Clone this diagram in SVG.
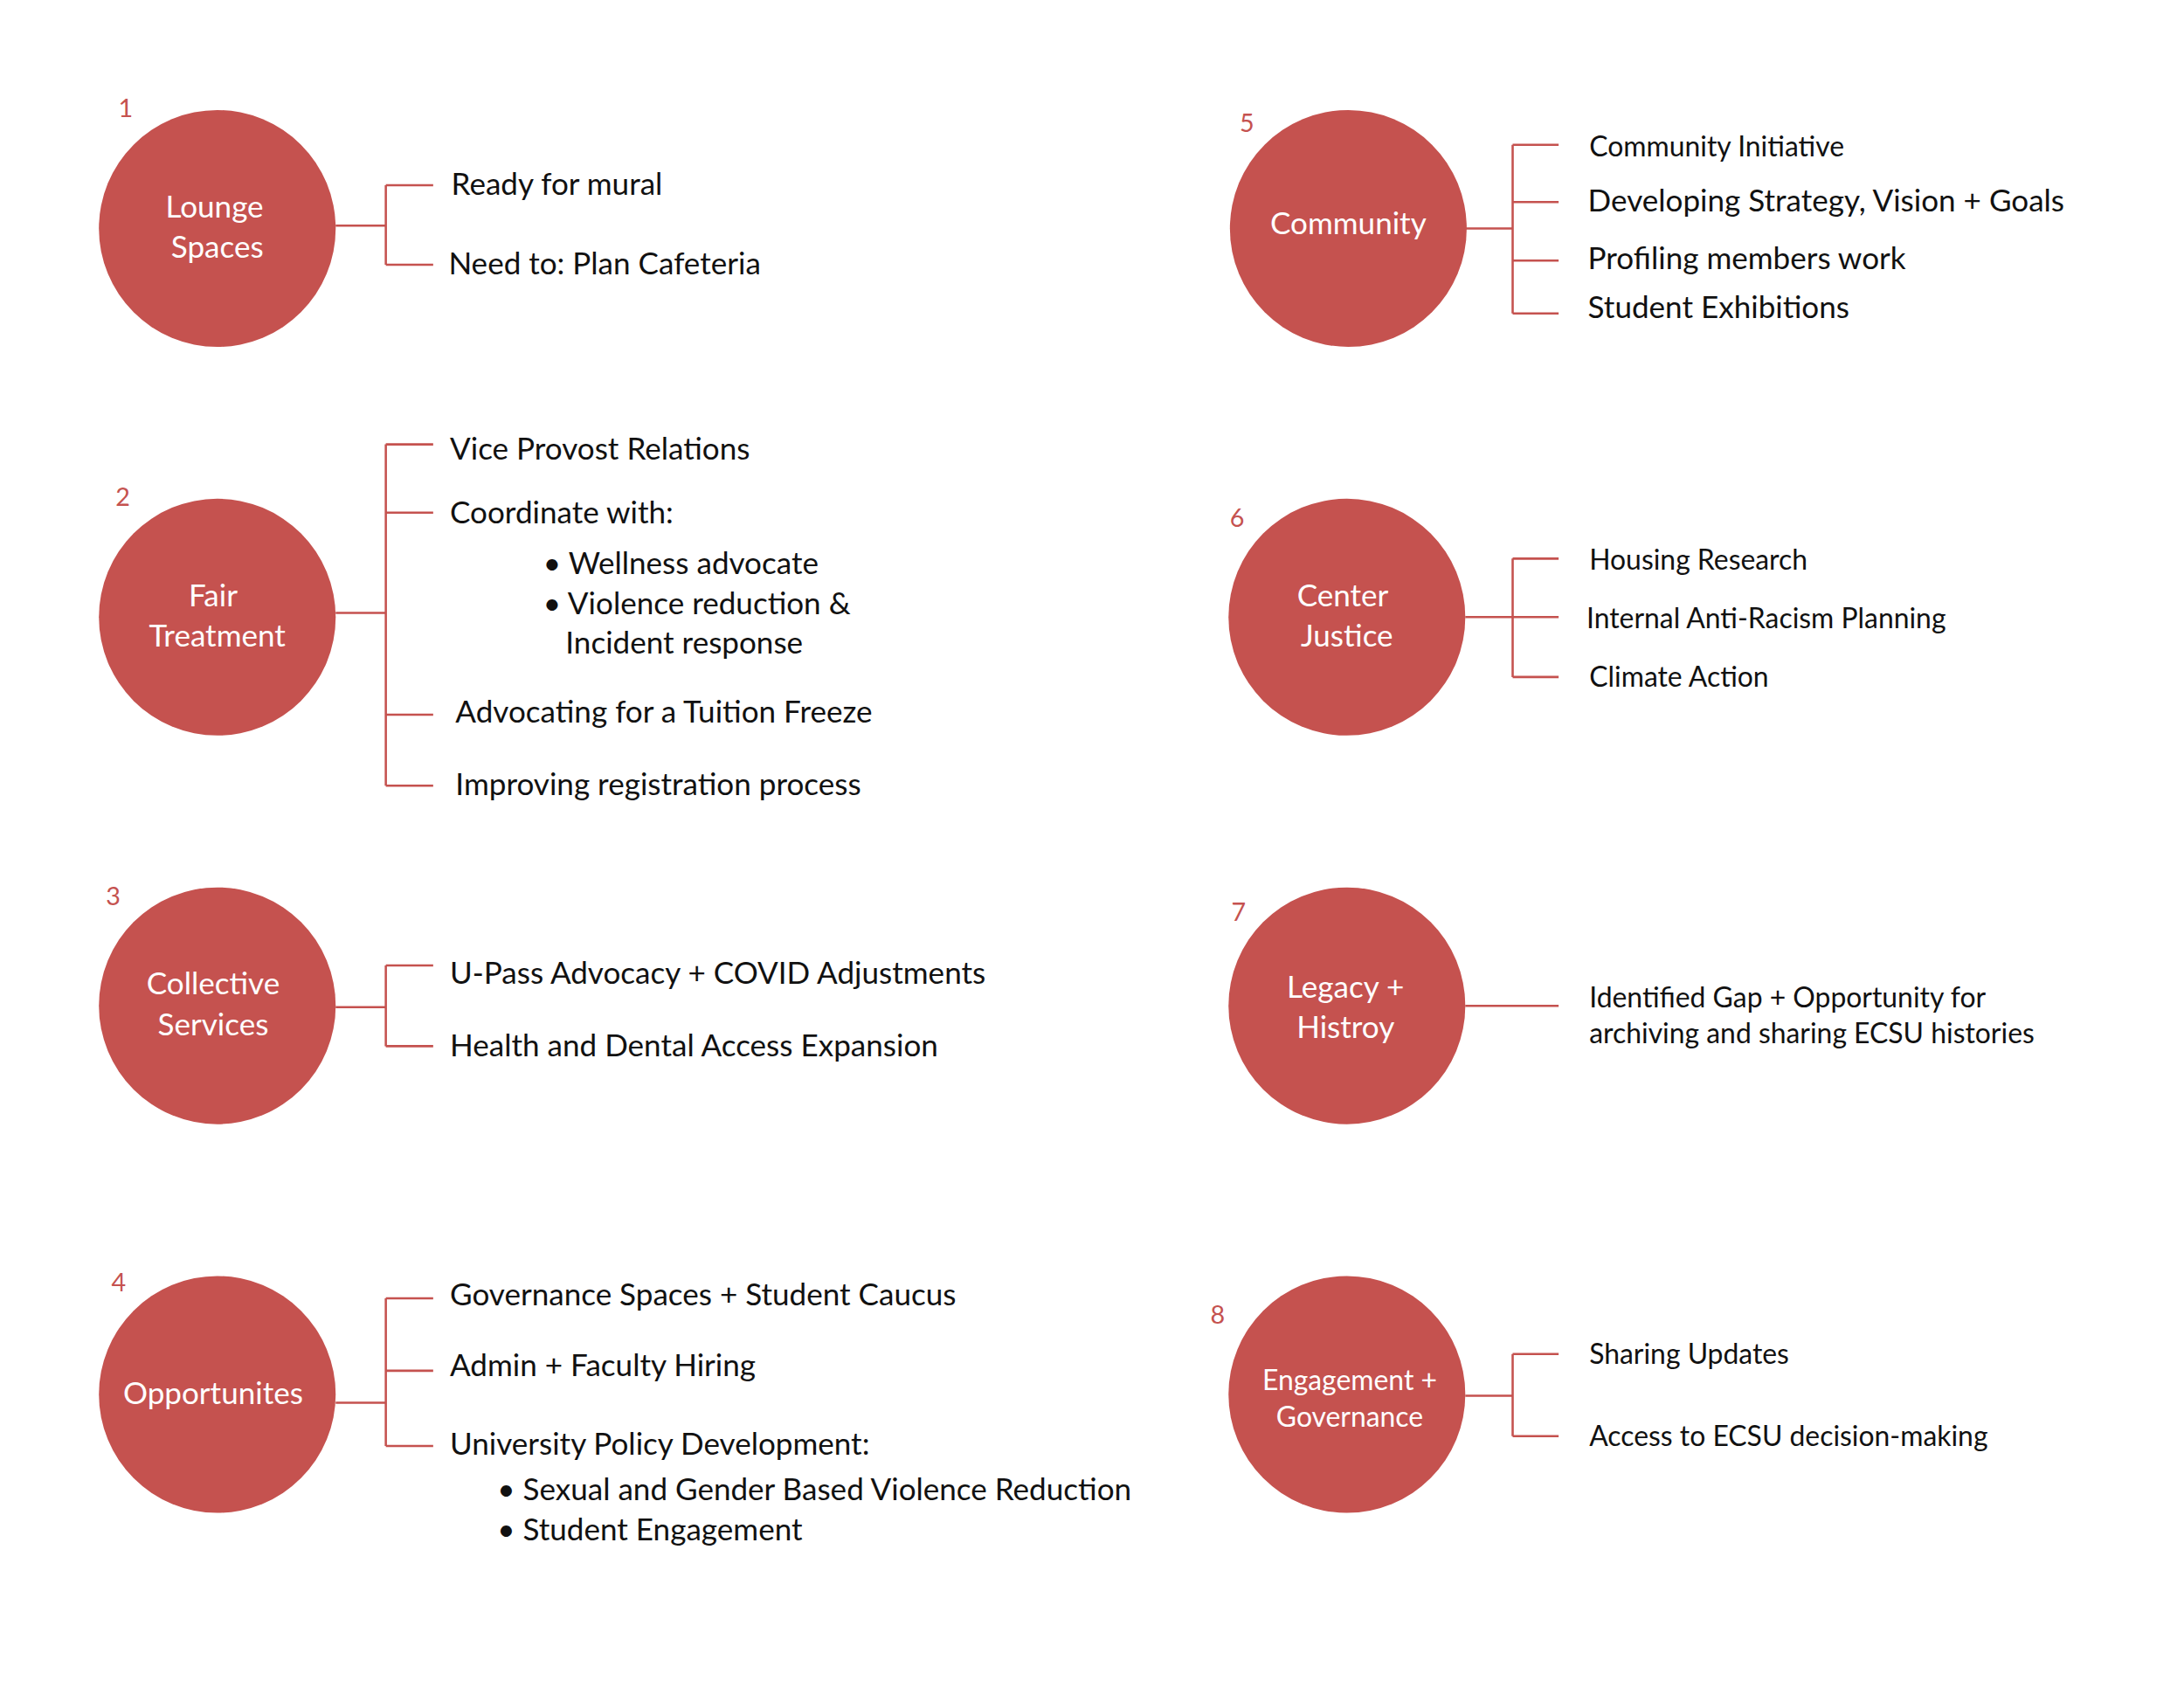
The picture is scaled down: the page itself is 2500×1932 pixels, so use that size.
<svg xmlns="http://www.w3.org/2000/svg" width="2500" height="1932" viewBox="0 0 2500 1932">
<style>
.c{fill:#c5524f}
.l{fill:#fff;font-family:Lato,"Open Sans",sans-serif;font-size:22px;text-anchor:middle}
.n{fill:#c5524f;font-family:Lato,"Open Sans",sans-serif;font-size:18px}
.t{fill:#111;font-family:Lato,"Open Sans",sans-serif;font-size:22px}
.s{font-size:20px}
.k{fill:none;stroke:#c5524f;stroke-width:1.6}
</style>
<rect width="2500" height="1932" fill="#fff"/>
<g transform="scale(1.5944)">
<g id="connectors" class="k">
<path d="M241 162H277M277 133V190M277 133H311M277 190H311"/>
<path d="M241 440H277M277 319V564M277 319H311M277 368H311M277 513H311M277 564H311"/>
<path d="M241 723H277M277 693V751M277 693H311M277 751H311"/>
<path d="M241 1007H277M277 932V1038M277 932H311M277 984H311M277 1038H311"/>
<path d="M1052 164H1086M1086 104V225M1086 104H1119M1086 145H1119M1086 187H1119M1086 225H1119"/>
<path d="M1052 443H1086M1086 401V486M1086 401H1119M1086 443H1119M1086 486H1119"/>
<path d="M1052 722H1119"/>
<path d="M1052 1002H1086M1086 972V1031M1086 972H1119M1086 1031H1119"/>
</g>
<g id="n1"><circle class="c" cx="156" cy="164" r="85"/><text class="n" x="85" y="84">1</text>
<text class="l" x="154" y="156">Lounge</text><text class="l" x="156" y="185">Spaces</text>
<text class="t" x="324" y="140">Ready for mural</text><text class="t" x="322" y="197">Need to: Plan Cafeteria</text></g>
<g id="n2"><circle class="c" cx="156" cy="443" r="85"/><text class="n" x="83" y="363">2</text>
<text class="l" x="153" y="435">Fair</text><text class="l" x="156" y="464">Treatment</text>
<text class="t" x="323" y="330">Vice Provost Relations</text><text class="t" x="323" y="376">Coordinate with:</text>
<text class="t" x="390" y="412">• Wellness advocate</text><text class="t" x="390" y="441">• Violence reduction &amp;</text>
<text class="t" x="406" y="469">Incident response</text>
<text class="t" x="327" y="519">Advocating for a Tuition Freeze</text><text class="t" x="327" y="571">Improving registration process</text></g>
<g id="n3"><circle class="c" cx="156" cy="722" r="85"/><text class="n" x="76" y="650">3</text>
<text class="l" x="153" y="714">Collective</text><text class="l" x="153" y="743">Services</text>
<text class="t" x="323" y="706">U-Pass Advocacy + COVID Adjustments</text><text class="t" x="323" y="758">Health and Dental Access Expansion</text></g>
<g id="n4"><circle class="c" cx="156" cy="1001" r="85"/><text class="n" x="80" y="927">4</text>
<text class="l" x="153" y="1008">Opportunites</text>
<text class="t" x="323" y="937">Governance Spaces + Student Caucus</text><text class="t" x="323" y="988">Admin + Faculty Hiring</text>
<text class="t" x="323" y="1044">University Policy Development:</text>
<text class="t" x="357" y="1077">• Sexual and Gender Based Violence Reduction</text><text class="t" x="357" y="1106">• Student Engagement</text></g>
<g id="n5"><circle class="c" cx="968" cy="164" r="85"/><text class="n" x="890" y="95">5</text>
<text class="l" x="968" y="168">Community</text>
<text class="t s" x="1141" y="112">Community Initiative</text><text class="t" x="1140" y="152">Developing Strategy, Vision + Goals</text>
<text class="t" x="1140" y="193">Profiling members work</text><text class="t" x="1140" y="228">Student Exhibitions</text></g>
<g id="n6"><circle class="c" cx="967" cy="443" r="85"/><text class="n" x="883" y="378">6</text>
<text class="l" x="964" y="435">Center</text><text class="l" x="967" y="464">Justice</text>
<text class="t s" x="1141" y="409">Housing Research</text><text class="t s" x="1139" y="451">Internal Anti-Racism Planning</text><text class="t s" x="1141" y="493">Climate Action</text></g>
<g id="n7"><circle class="c" cx="967" cy="722" r="85"/><text class="n" x="884" y="661">7</text>
<text class="l" x="966" y="716">Legacy +</text><text class="l" x="966" y="745">Histroy</text>
<text class="t s" x="1141" y="723">Identified Gap + Opportunity for</text><text class="t s" x="1141" y="749">archiving and sharing ECSU histories</text></g>
<g id="n8"><circle class="c" cx="967" cy="1001" r="85"/><text class="n" x="869" y="950">8</text>
<text class="l s" x="969" y="998">Engagement +</text><text class="l s" x="969" y="1024">Governance</text>
<text class="t s" x="1141" y="979">Sharing Updates</text><text class="t s" x="1141" y="1038">Access to ECSU decision-making</text></g>
</g>
</svg>
